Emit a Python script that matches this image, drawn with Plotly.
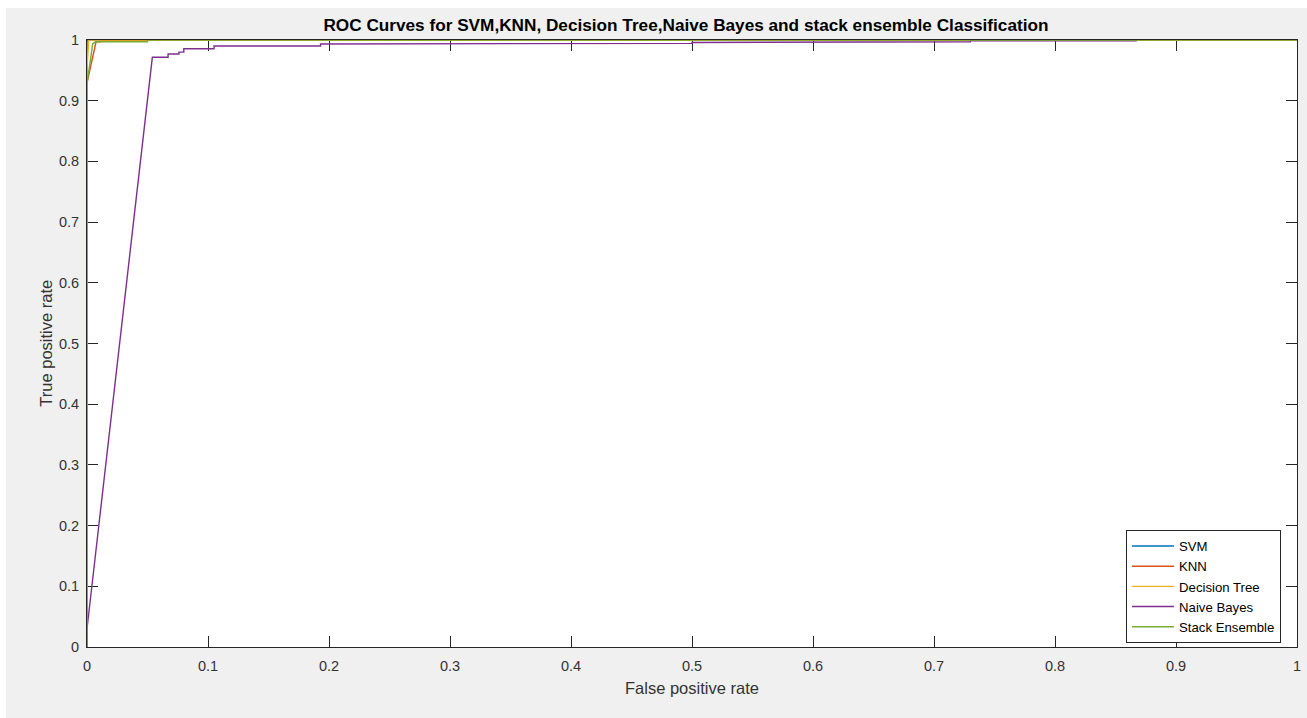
import plotly.graph_objects as go

# ---- data ----
series_names = ["SVM", "KNN", "Decision Tree", "Naive Bayes", "Stack Ensemble"]
series_colors = ["#0072BD", "#D95319", "#EDB120", "#7E2F8E", "#77AC30"]

svm_fpr = [0.0, 0.0, 1.0]
svm_tpr = [0.0, 1.0, 1.0]

knn_fpr = [0.0, 0.0, 0.0075, 0.011, 0.011, 1.0]
knn_tpr = [0.0, 0.929, 0.997, 0.997, 1.0, 1.0]

dt_fpr = [0.0, 0.0, 0.0015, 1.0]
dt_tpr = [0.0, 0.955, 1.0, 1.0]

nb_fpr = [0.0, 0.0, 0.054, 0.067, 0.067, 0.076, 0.076, 0.080, 0.080, 0.105, 0.105,
          0.193, 0.193, 0.328, 0.328, 0.50, 0.50, 0.60, 0.60, 0.73, 0.73, 0.867, 0.867]
nb_tpr = [0.0, 0.030, 0.9715, 0.9715, 0.977, 0.977, 0.980, 0.980, 0.9857, 0.9857, 0.990,
          0.990, 0.9934, 0.9934, 0.9945, 0.9945, 0.996, 0.996, 0.9972, 0.9972, 0.9985, 0.9985, 1.0]

se_fpr = [0.0, 0.0, 0.0025, 0.0047, 0.007, 0.050, 0.050, 1.0]
se_tpr = [0.0, 0.93, 0.962, 0.9935, 0.997, 0.997, 1.0, 1.0]

x_ticks = [0, 0.1, 0.2, 0.3, 0.4, 0.5, 0.6, 0.7, 0.8, 0.9, 1]
x_tick_labels = ["0", "0.1", "0.2", "0.3", "0.4", "0.5", "0.6", "0.7", "0.8", "0.9", "1"]
y_ticks = x_ticks
y_tick_labels = x_tick_labels

title_text = "ROC Curves for SVM,KNN, Decision Tree,Naive Bayes and stack ensemble Classification"
x_label = "False positive rate"
y_label = "True positive rate"

all_x = [svm_fpr, knn_fpr, dt_fpr, nb_fpr, se_fpr]
all_y = [svm_tpr, knn_tpr, dt_tpr, nb_tpr, se_tpr]

FONT = "Liberation Sans, Arial, Helvetica, sans-serif"
AX = "#262626"

fig = go.Figure()
for name, col, xs, ys in zip(series_names, series_colors, all_x, all_y):
    fig.add_trace(go.Scatter(x=xs, y=ys, mode="lines", name=name,
                             line=dict(color=col, width=1.4),
                             cliponaxis=False, hoverinfo="skip"))

axis_common = dict(
    range=[0, 1], showgrid=False, zeroline=False,
    showline=True, linecolor=AX, linewidth=1, mirror="ticks",
    ticks="inside", ticklen=11, tickcolor=AX, tickwidth=1,
    tickfont=dict(family=FONT, size=14.5, color="#333333"),
    layer="below traces", fixedrange=True,
)

fig.update_layout(
    width=1301, height=710,
    margin=dict(l=81, r=6, t=32, b=71),
    paper_bgcolor="#F0F0F0", plot_bgcolor="#FFFFFF",
    showlegend=True,
    title=dict(text="<b>" + title_text + "</b>", x=0.495, xref="paper",
               y=1 - 16.5 / 710, yref="container", xanchor="center", yanchor="middle",
               font=dict(family=FONT, size=17.2, color="#000000")),
    xaxis=dict(tickvals=x_ticks, ticktext=x_tick_labels, ticklabelstandoff=6, **axis_common),
    yaxis=dict(tickvals=y_ticks, ticktext=y_tick_labels, ticklabelstandoff=4, **axis_common),
    legend=dict(x=0.9868, y=0.0066, xanchor="right", yanchor="bottom",
                bgcolor="#FFFFFF", bordercolor=AX, borderwidth=1,
                font=dict(family=FONT, size=13.2, color="#000000"),
                tracegroupgap=0, itemwidth=42),
    annotations=[
        dict(text=x_label, xref="paper", yref="paper", x=0.5, y=-41 / 607,
             xanchor="center", yanchor="middle", showarrow=False,
             font=dict(family=FONT, size=16.5, color="#333333")),
        dict(text=y_label, xref="paper", yref="paper", x=-42 / 1214, y=0.5,
             xanchor="center", yanchor="middle", showarrow=False, textangle=-90,
             font=dict(family=FONT, size=16.5, color="#333333")),
    ],
)

fig.write_html("out.html", post_script="document.body.style.margin='8px 0px 0px 6px';document.body.style.overflow='hidden';")
